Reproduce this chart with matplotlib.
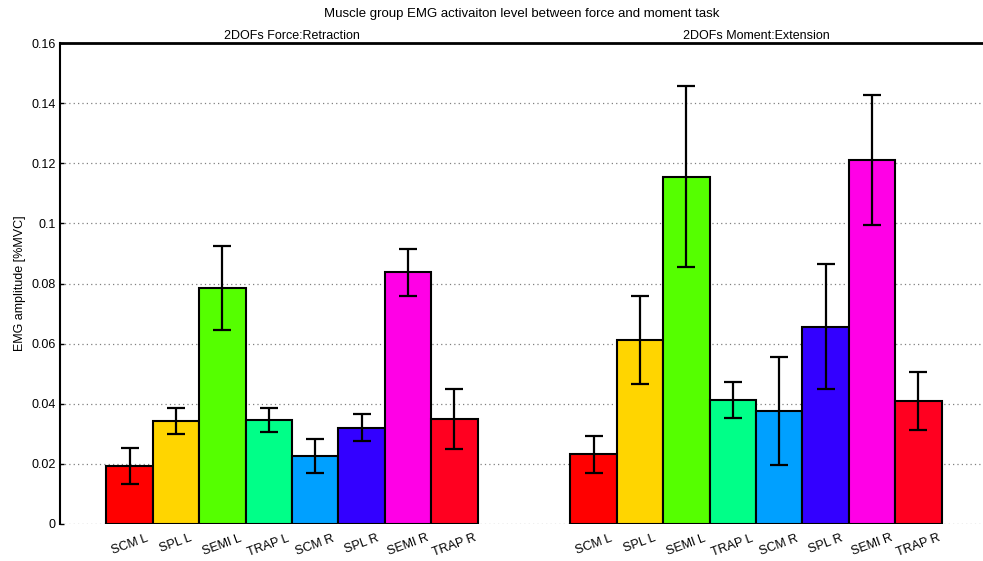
import matplotlib
matplotlib.use("Agg")
import matplotlib.pyplot as plt
import numpy as np

plt.rcParams['font.family'] = ['Liberation Sans', 'DejaVu Sans']

categories = ['SCM L', 'SPL L', 'SEMI L', 'TRAP L', 'SCM R', 'SPL R', 'SEMI R', 'TRAP R']
groups = ['2DOFs Force:Retraction', '2DOFs Moment:Extension']
force_mean = [0.0193, 0.0343, 0.0786, 0.0346, 0.0227, 0.0320, 0.0837, 0.0349]
force_err = [0.0061, 0.0042, 0.0140, 0.0040, 0.0057, 0.0045, 0.0079, 0.0101]
moment_mean = [0.0232, 0.0612, 0.1155, 0.0414, 0.0376, 0.0656, 0.1212, 0.0409]
moment_err = [0.0061, 0.0147, 0.0301, 0.0060, 0.0180, 0.0208, 0.0216, 0.0096]
yticks = [0, 0.02, 0.04, 0.06, 0.08, 0.1, 0.12, 0.14, 0.16]
ytick_labels = ['0', '0.02', '0.04', '0.06', '0.08', '0.1', '0.12', '0.14', '0.16']
colors = ['#FF0000', '#FFD500', '#55FF00', '#00FF88', '#00A0FF', '#3300FF', '#FF00E6', '#FF0020']
title = 'Muscle group EMG activaiton level between force and moment task'

W, H = 983, 561
fig = plt.figure(figsize=(W / 100, H / 100), dpi=100)
left, right, bottom, top = 60, 988, 524, 43
ax = fig.add_axes([left / W, 1 - bottom / H, (right - left) / W, (bottom - top) / H])

bw = 0.1
n = len(categories)
offsets = (np.arange(n) - (n - 1) / 2) * bw
all_means = [force_mean, moment_mean]
all_errs = [force_err, moment_err]
xt, xl = [], []
for g in range(2):
    xs = g + 1 + offsets
    ax.bar(xs, all_means[g], width=bw, color=colors, edgecolor='black', linewidth=1.5, zorder=2)
    ax.errorbar(xs, all_means[g], yerr=all_errs[g], fmt='none', ecolor='black',
                elinewidth=1.6, capsize=6.5, capthick=1.6, zorder=3)
    xt.extend(xs)
    xl.extend(categories)
    ax.text(g + 1, 1.003, groups[g], transform=ax.get_xaxis_transform(),
            ha='center', va='bottom', fontsize=9)

ax.set_xlim(0.5, 2.5)
ax.set_ylim(0, 0.16)
ax.set_yticks(yticks)
ax.set_yticklabels(ytick_labels, fontsize=9)
ax.set_xticks(xt)
ax.set_xticklabels(xl, rotation=20, ha='center', fontsize=9)
ax.tick_params(axis='x', length=0, pad=6)
ax.tick_params(axis='y', direction='in', length=3, width=1, pad=3)
ax.set_axisbelow(True)
ax.yaxis.grid(True, linestyle=(0, (1, 2.5)), color='#808080', linewidth=0.9)
ax.spines['bottom'].set_visible(False)
ax.spines['right'].set_visible(False)
ax.spines['left'].set_linewidth(1.5)
ax.spines['top'].set_linewidth(2)
ax.set_ylabel('EMG amplitude [%MVC]', fontsize=9, labelpad=4)
fig.text(0.531, 1 - 14 / H, title, ha='center', va='center', fontsize=9.5)

fig.savefig('out.png', dpi=100)
